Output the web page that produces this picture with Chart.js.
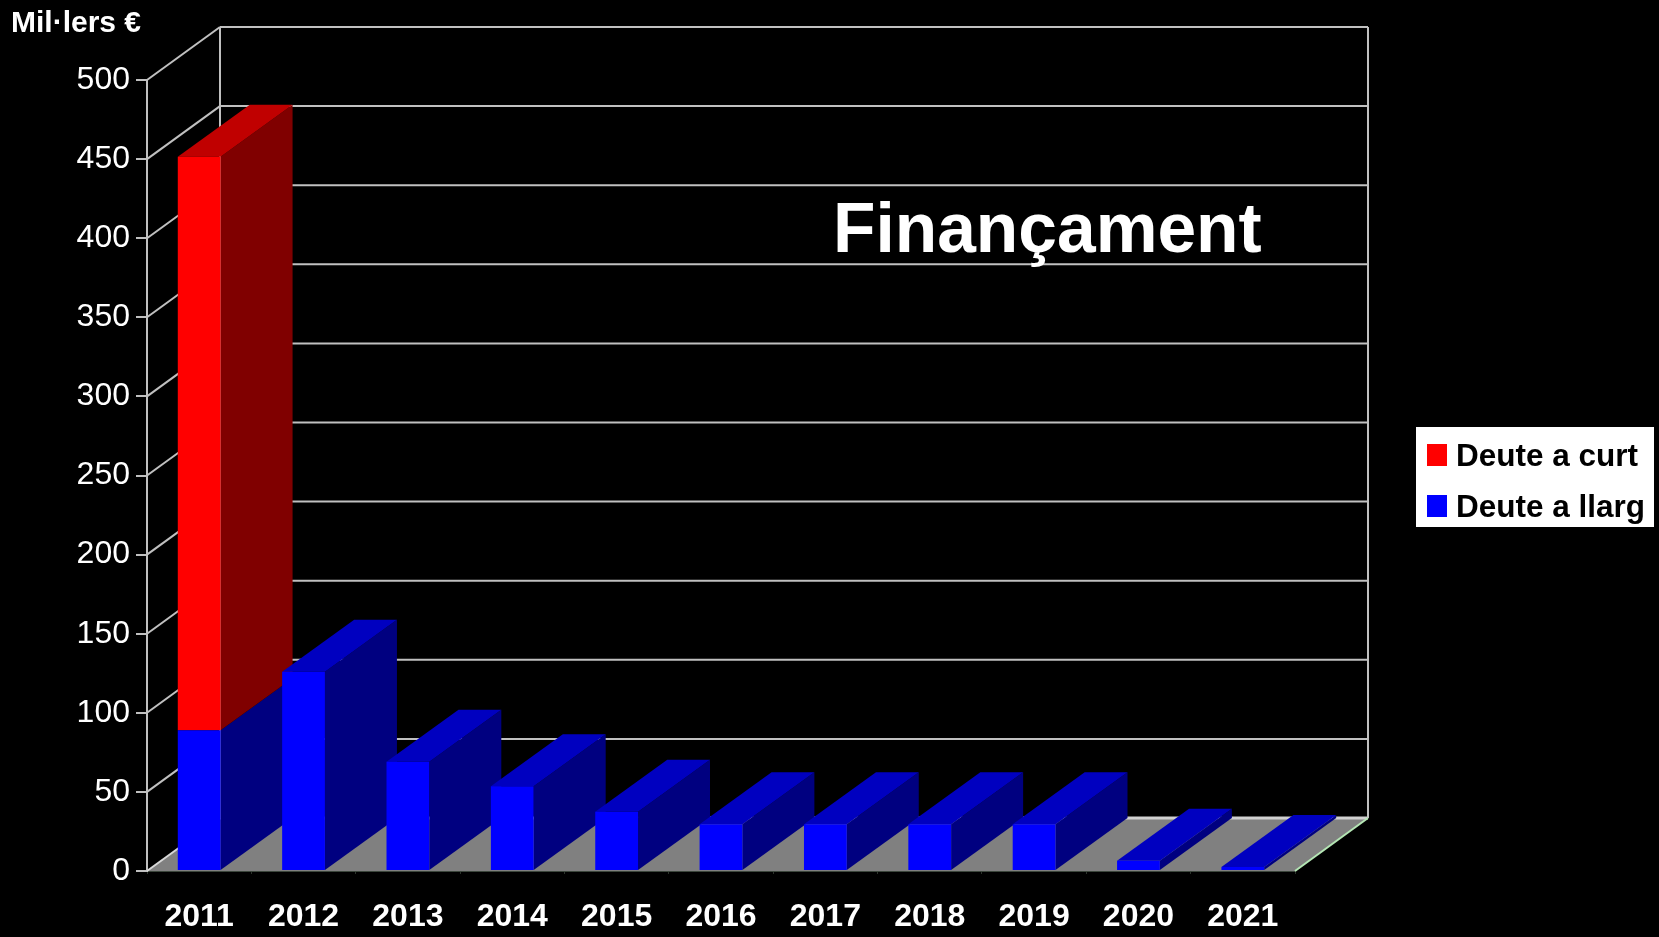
<!DOCTYPE html>
<html>
<head>
<meta charset="utf-8">
<title>Finançament</title>
<script src="https://cdn.jsdelivr.net/npm/chart.js@4/dist/chart.umd.min.js"></script>
<style>
    html, body { margin: 0; padding: 0; background: #000; overflow: hidden; }
    canvas { display: block; }
</style>
</head>
<body>
<canvas id="financamentChart" width="1659" height="937"></canvas>
<script>
const years = ['2011', '2012', '2013', '2014', '2015', '2016', '2017', '2018', '2019', '2020', '2021'];
const deuteLlarg = [89, 126, 69, 53.5, 37.5, 29.5, 29.5, 29.5, 29.5, 6.5, 2.5];
const deuteCurt = [362.5, 0, 0, 0, 0, 0, 0, 0, 0, 0, 0];
const yMax = 500;
const yStep = 50;

// depth of the fake 3D box
const depthX = 73;
const depthY = 53;
const barDepthY = 52;

const font = "'Liberation Sans', Arial, sans-serif";
const gridColor = '#c0c0c0';

function line(ctx, x1, y1, x2, y2, color, width) {
    ctx.strokeStyle = color;
    ctx.lineWidth = width;
    ctx.beginPath();
    ctx.moveTo(x1, y1);
    ctx.lineTo(x2, y2);
    ctx.stroke();
}

function poly(ctx, points, color) {
    ctx.fillStyle = color;
    ctx.beginPath();
    points.forEach((p, i) => i ? ctx.lineTo(p[0], p[1]) : ctx.moveTo(p[0], p[1]));
    ctx.closePath();
    ctx.fill();
}

// Floor, back wall and the sides and tops of the bars
const box3d = {
    id: 'box3d',
    beforeDatasetsDraw(chart) {
        const ctx = chart.ctx;
        const y = chart.scales.y;
        const left = chart.chartArea.left;
        const right = chart.chartArea.right;
        const base = y.getPixelForValue(0);

        ctx.save();
        poly(ctx, [[left, base], [left + depthX, base - depthY], [right + depthX, base - depthY], [right, base]], '#808080');

        for (let v = 0; v <= yMax; v += yStep) {
            const py = y.getPixelForValue(v);
            line(ctx, left, py, left + depthX, py - depthY, v === 0 ? '#d8d8d8' : gridColor, 2);
            line(ctx, left + depthX, py - depthY, right + depthX, py - depthY, v === 0 ? '#d0d0d0' : gridColor, v === 0 ? 3 : 2);
        }
        line(ctx, left + depthX, y.getPixelForValue(yMax) - depthY, left + depthX, base - depthY, gridColor, 2);
        line(ctx, right + depthX, y.getPixelForValue(yMax) - depthY, right + depthX, base - depthY, gridColor, 2);
        line(ctx, right, base, right + depthX, base - depthY, '#b4e6b4', 2);

        const shades = [
            { side: '#000080', top: '#0000c0' },
            { side: '#800000', top: '#c00000' }
        ];
        years.forEach((year, i) => {
            chart.data.datasets.forEach((ds, d) => {
                if (!ds.data[i]) return;
                const bar = chart.getDatasetMeta(d).data[i];
                const x0 = bar.x - bar.width / 2;
                const x1 = bar.x + bar.width / 2;
                poly(ctx, [[x1, bar.base], [x1 + depthX - 1, bar.base - barDepthY], [x1 + depthX - 1, bar.y - barDepthY], [x1, bar.y]], shades[d].side);
                const isTop = d === chart.data.datasets.length - 1 || !chart.data.datasets[d + 1].data[i];
                if (isTop) {
                    poly(ctx, [[x0, bar.y], [x1, bar.y], [x1 + depthX - 1, bar.y - barDepthY], [x0 + depthX - 1, bar.y - barDepthY]], shades[d].top);
                }
            });
        });
        ctx.restore();
    },
    afterDraw(chart) {
        const ctx = chart.ctx;
        ctx.save();
        ctx.textBaseline = 'alphabetic';
        ctx.textAlign = 'left';
        ctx.fillStyle = '#fff';
        ctx.font = 'bold 30px ' + font;
        ctx.fillText('Mil·lers €', 11, 32);
        ctx.font = 'bold 69.5px ' + font;
        ctx.fillText('Finançament', 833, 252);

        // legend box
        ctx.fillStyle = '#fff';
        ctx.fillRect(1416, 427, 238, 100);
        ctx.font = 'bold 31.5px ' + font;
        const rows = [chart.data.datasets[1], chart.data.datasets[0]];
        rows.forEach((ds, i) => {
            const top = 444 + i * 51;
            ctx.fillStyle = ds.backgroundColor;
            ctx.fillRect(1427, top, 20, 22);
            ctx.fillStyle = '#000';
            ctx.fillText(ds.label, 1456, top + 22);
        });
        ctx.restore();
    }
};

new Chart(document.getElementById('financamentChart').getContext('2d'), {
    type: 'bar',
    data: {
        labels: years,
        datasets: [
            { label: 'Deute a llarg', data: deuteLlarg, backgroundColor: '#0000ff', borderWidth: 0 },
            { label: 'Deute a curt', data: deuteCurt, backgroundColor: '#ff0000', borderWidth: 0 }
        ]
    },
    options: {
        responsive: false,
        animation: false,
        events: [],
        layout: { padding: { top: 80, right: 364, left: 0, bottom: 0 } },
        datasets: { bar: { categoryPercentage: 1, barPercentage: 0.41 } },
        plugins: {
            legend: { display: false },
            title: { display: false },
            tooltip: { enabled: false }
        },
        scales: {
            x: {
                stacked: true,
                border: { color: '#3c463c', width: 2 },
                grid: { drawOnChartArea: false, color: '#2c342c', tickLength: 3, offset: true },
                ticks: { color: '#fff', padding: 24, maxRotation: 0, font: { family: font, size: 32, weight: 'bold' } },
                afterFit(scale) { scale.height = 66; }
            },
            y: {
                stacked: true,
                min: 0,
                max: yMax,
                border: { color: gridColor, width: 2 },
                grid: { drawOnChartArea: false, color: gridColor, tickLength: 11, lineWidth: 2 },
                ticks: { color: '#fff', stepSize: yStep, padding: 6, font: { family: font, size: 32 } },
                afterFit(scale) { scale.width = 147; }
            }
        }
    },
    plugins: [box3d]
});
</script>
</body>
</html>
